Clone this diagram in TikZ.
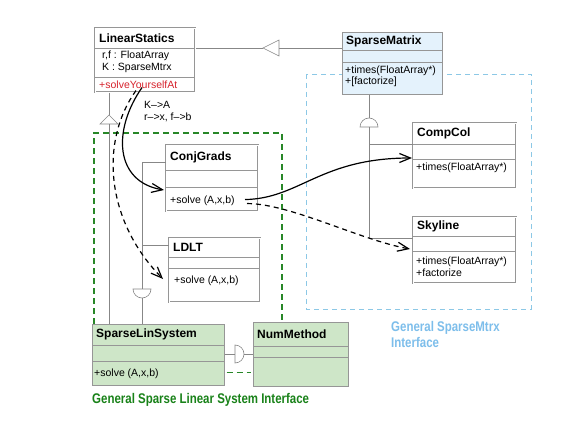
\documentclass[tikz,border=0pt]{standalone}
\usepackage{fontspec}
\setmainfont{Liberation Sans}
\usepackage{graphicx}
\usetikzlibrary{calc,arrows.meta}
\definecolor{boxgray}{RGB}{150,150,150}
\definecolor{linegray}{RGB}{135,135,135}
\definecolor{smblue}{RGB}{228,242,252}
\definecolor{slsgreen}{RGB}{206,230,200}
\definecolor{greenframe}{RGB}{40,135,40}
\definecolor{blueframe}{RGB}{140,200,230}
\definecolor{lblgreen}{RGB}{25,130,25}
\definecolor{lblblue}{RGB}{125,190,235}
\definecolor{redtext}{RGB}{215,35,45}
\newcommand{\umlclass}[9]{%
\pgfmathsetmacro{\umlh}{#8-#4}
\node[#1,minimum width=#5pt,minimum height=\umlh pt,anchor=north west] (#2) at (#3,#4) {};
\draw[divline] (#3,#6) -- ++(#5,0) (#3,#7) -- ++(#5,0);
\node[titletext] (#2-title) at ({#3+4},{(#4+#6)/2}) {#9};
}

\begin{document}
\begin{tikzpicture}[x=1pt,y=-1pt,
classbox/.style={draw=boxgray,double=white,double distance=1.1pt,line width=0.55pt,fill=white,inner sep=0pt},
bluebox/.style={draw=boxgray,line width=0.6pt,fill=smblue,inner sep=0pt},
greenbox/.style={draw=boxgray,line width=0.6pt,fill=slsgreen,inner sep=0pt},
divline/.style={boxgray,line width=0.6pt},
relline/.style={linegray,line width=0.6pt},
titletext/.style={anchor=west,inner sep=0pt,font=\bfseries\fontsize{12}{14}\selectfont},
membtext/.style={anchor=west,inner sep=0pt,font=\fontsize{10.5}{12}\selectfont},
lbltext/.style={anchor=west,inner sep=0pt,align=left,font=\bfseries\fontsize{14}{16}\selectfont},
callarrow/.style={line width=1.2pt,-{Straight Barb[length=11pt,width=9pt,line width=1.2pt]}},
dasharrow/.style={callarrow,dash pattern=on 5pt off 4pt},
greendash/.style={greenframe,line width=1.2pt,dash pattern=on 6pt off 4pt},
bluedash/.style={blueframe,line width=0.9pt,dash pattern=on 5pt off 4pt}]
\fill[white] (0,0) rectangle (577,446);
\useasboundingbox (0,0) rectangle (577,446);

\draw[bluedash] (306,74) rectangle (531,309);
\draw[greendash] (94,324) |- (282,133) -- (282,322);

\umlclass{classbox}{ls}{95}{28}{100}{48}{77}{92}{LinearStatics}
\node[membtext] (ls-a1) at (102,56) {r,f : FloatArray};
\node[membtext] (ls-a2) at (102,68) {K : SparseMtrx};
\node[membtext,text=redtext] (ls-m1) at (99,85) {+solveYourselfAt};

\umlclass{bluebox}{sm}{342}{32}{100}{50}{62}{94}{SparseMatrix}
\node[membtext] (sm-m1) at (345,71) {+times(FloatArray*)};
\node[membtext] (sm-m2) at (345,82) {+[factorize]};

\umlclass{classbox}{cc}{413}{123}{103}{144}{159}{188}{CompCol}
\node[membtext] (cc-m1) at (416,168) {+times(FloatArray*)};

\umlclass{classbox}{sky}{413}{217}{103}{236}{251}{283}{Skyline}
\node[membtext] (sky-m1) at (416,262) {+times(FloatArray*)};
\node[membtext] (sky-m2) at (416,273) {+factorize};

\umlclass{classbox}{cg}{166}{145}{92}{170}{187}{211}{ConjGrads}
\node[membtext] (cg-m1) at (170,201) {+solve (A,x,b)};

\umlclass{classbox}{ldlt}{169}{238}{91}{257}{268}{302}{LDLT}
\node[membtext] (ldlt-m1) at (174,281) {+solve (A,x,b)};

\umlclass{greenbox}{sls}{92}{324}{132}{345}{361}{385}{SparseLinSystem}
\node[membtext] (sls-m1) at (94,374) {+solve (A,x,b)};

\umlclass{greenbox}{nm}{253}{322}{95}{346}{357}{386}{NumMethod}

\node[membtext,align=left] (subst) at (144,111.5) {K–>A\\r–>x, f–>b};

\coordinate (gen1) at (263,48);
\draw[relline] (ls.east |- gen1) -- (gen1);
\draw[relline,fill=white] (gen1) -- ++(16,-8) -- ++(0,16) -- cycle;
\draw[relline] ($(gen1)+(16,0)$) -- (sm.west |- gen1);

\coordinate (gen2) at (109,115);
\draw[relline] (ls.south -| gen2) -- (gen2);
\draw[relline,fill=white] (gen2) -- ++(-9,9) -- ++(18,0) -- cycle;
\draw[relline] ($(gen2)+(0,9)$) -- (sls.north -| gen2);

\coordinate (smjoin) at (369,127);
\draw[relline] (sm.south -| smjoin) -- ($(smjoin)+(0,-9)$);
\draw[relline,fill=white] ($(smjoin)+(-9,0)$) arc(180:360:9) -- cycle;
\draw[relline] ($(cc.north west)+(0,21)$) -| (smjoin);
\draw[relline] (smjoin) |- ($(sky.north west)+(0,21)$);

\coordinate (slsjoin) at (142,289);
\draw[relline] ($(cg.north west)+(0,17)$) -| (slsjoin);
\draw[relline] ($(ldlt.north west)+(0,7)$) -| (slsjoin);
\draw[relline,fill=white] ($(slsjoin)+(-9,0)$) arc(180:0:9) -- cycle;
\draw[relline] ($(slsjoin)+(0,9)$) -- (sls.north -| slsjoin);

\coordinate (nmjoin) at (235,354);
\draw[relline] (sls.east |- nmjoin) -- (nmjoin);
\draw[relline,fill=white] ($(nmjoin)+(0,-9)$) arc(270:450:9) -- cycle;
\draw[relline] ($(nmjoin)+(9,0)$) -- (nm.west |- nmjoin);
\draw[greendash] ($(sls.south east)+(2,-13)$) -- ($(nm.south west)+(-2,-14)$);

\draw[callarrow] ($(ls.south west)+(47,-5)$) .. controls +(-30,43) and +(-49,-8) .. ($(cg.north west)+(-2,45)$);
\draw[dasharrow] ($(ls.south west)+(41,-2)$) .. controls +(-36,50) and +(-58,-59) .. ($(ldlt.north west)+(-6,41)$);
\draw[callarrow] ($(cg.south west)+(79,-12)$) .. controls +(55,-1) and +(-92,0) .. ($(cc.north west)+(-1,35)$);
\draw[dasharrow] ($(cg.south west)+(81,-8)$) .. controls +(43,0) and +(-50,-9) .. ($(sky.north west)+(-3,32)$);

\node[lbltext,text=lblgreen] (lbl-sls) at (92,400) {\scalebox{0.82}[1]{General Sparse Linear System Interface}};
\node[lbltext,text=lblblue] (lbl-sm) at (391,334) {\scalebox{0.82}[1]{General SparseMtrx}\\\scalebox{0.82}[1]{Interface}};
\end{tikzpicture}
\end{document}
